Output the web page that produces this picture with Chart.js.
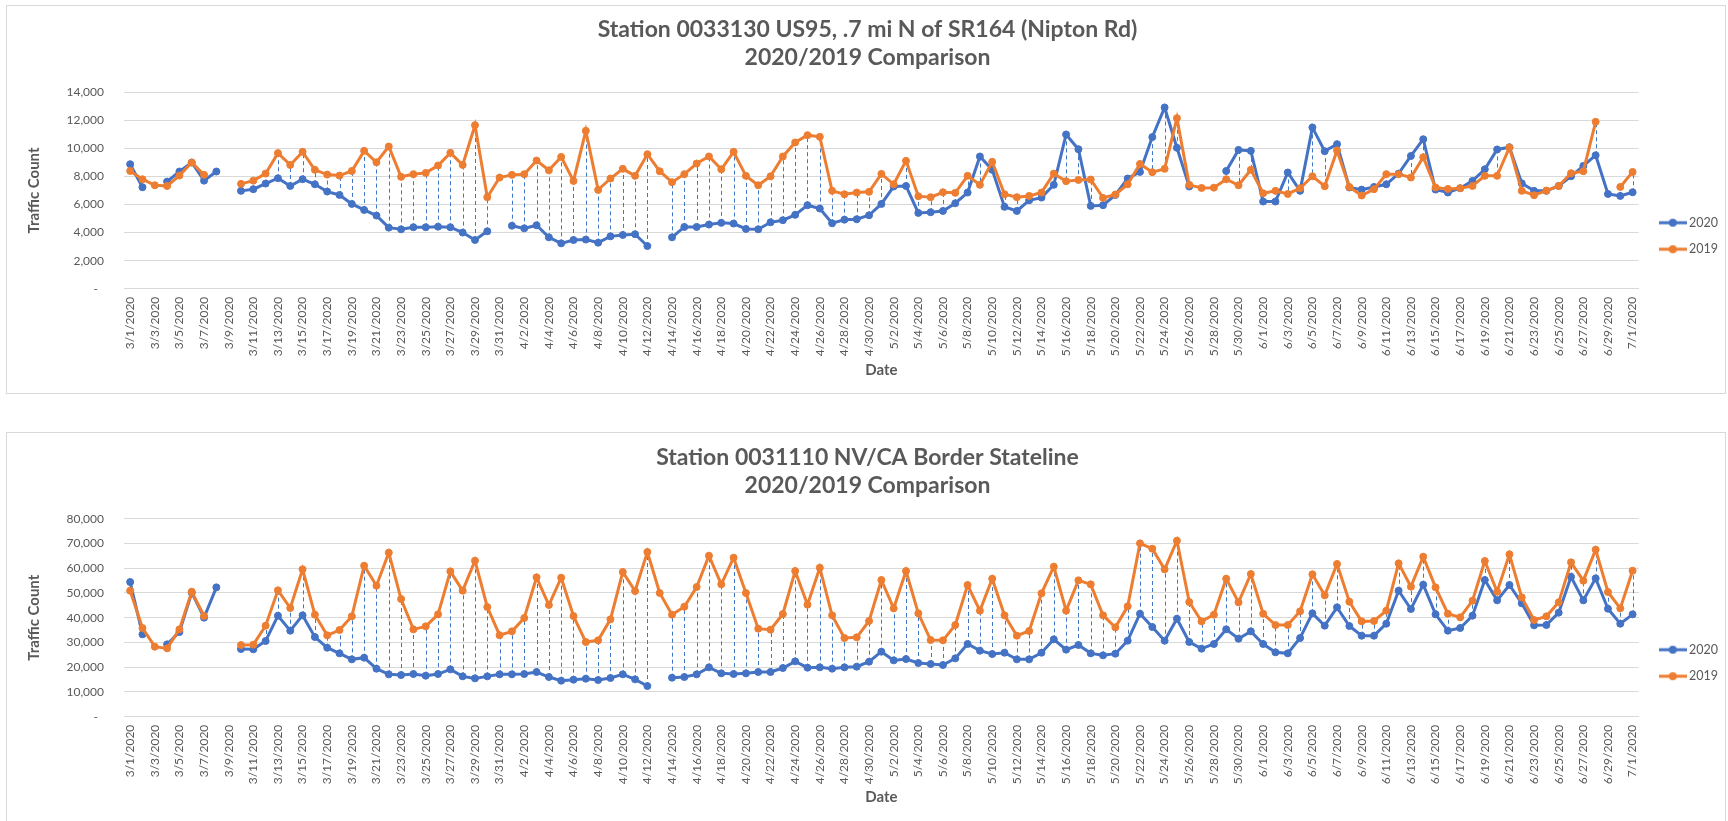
<!DOCTYPE html>
<html>
<head>
<meta charset="utf-8">
<title>Station traffic 2020/2019 comparison</title>
<script src="https://cdn.jsdelivr.net/npm/chart.js@4.4.1/dist/chart.umd.min.js"></script>
<style>
  body { margin: 0; background: #fff; width: 1728px; height: 821px; overflow: hidden; position: relative; }
  .frame { position: absolute; left: 6px; width: 1720px; border: 1px solid #d9d9d9; box-sizing: border-box; }
  #frame1 { top: 5px; height: 389px; }
  #frame2 { top: 432px; height: 392px; }
  canvas { position: absolute; left: 7px; }
  #nipton { top: 6px; }
  #stateline { top: 433px; }
</style>
</head>
<body>
<div class="frame" id="frame1"></div>
<div class="frame" id="frame2"></div>
<canvas id="nipton" width="1721" height="386"></canvas>
<canvas id="stateline" width="1721" height="386"></canvas>
<script>
const dates = [
  "3/1/2020","3/2/2020","3/3/2020","3/4/2020","3/5/2020","3/6/2020","3/7/2020","3/8/2020","3/9/2020","3/10/2020",
  "3/11/2020","3/12/2020","3/13/2020","3/14/2020","3/15/2020","3/16/2020","3/17/2020","3/18/2020","3/19/2020","3/20/2020",
  "3/21/2020","3/22/2020","3/23/2020","3/24/2020","3/25/2020","3/26/2020","3/27/2020","3/28/2020","3/29/2020","3/30/2020","3/31/2020",
  "4/1/2020","4/2/2020","4/3/2020","4/4/2020","4/5/2020","4/6/2020","4/7/2020","4/8/2020","4/9/2020","4/10/2020",
  "4/11/2020","4/12/2020","4/13/2020","4/14/2020","4/15/2020","4/16/2020","4/17/2020","4/18/2020","4/19/2020","4/20/2020",
  "4/21/2020","4/22/2020","4/23/2020","4/24/2020","4/25/2020","4/26/2020","4/27/2020","4/28/2020","4/29/2020","4/30/2020",
  "5/1/2020","5/2/2020","5/3/2020","5/4/2020","5/5/2020","5/6/2020","5/7/2020","5/8/2020","5/9/2020","5/10/2020",
  "5/11/2020","5/12/2020","5/13/2020","5/14/2020","5/15/2020","5/16/2020","5/17/2020","5/18/2020","5/19/2020","5/20/2020",
  "5/21/2020","5/22/2020","5/23/2020","5/24/2020","5/25/2020","5/26/2020","5/27/2020","5/28/2020","5/29/2020","5/30/2020","5/31/2020",
  "6/1/2020","6/2/2020","6/3/2020","6/4/2020","6/5/2020","6/6/2020","6/7/2020","6/8/2020","6/9/2020","6/10/2020",
  "6/11/2020","6/12/2020","6/13/2020","6/14/2020","6/15/2020","6/16/2020","6/17/2020","6/18/2020","6/19/2020","6/20/2020",
  "6/21/2020","6/22/2020","6/23/2020","6/24/2020","6/25/2020","6/26/2020","6/27/2020","6/28/2020","6/29/2020","6/30/2020",
  "7/1/2020"
];

// Station 0033130 US95 (Nipton Rd)
const nipton2020 = [
  8870,7230,null,7630,8350,8990,7700,8350,null,6970,7090,7490,7870,7320,7800,7440,6920,6680,6040,5610,5210,4350,4230,4380,4380,4420,4380,4000,3470,4090,null,
  4490,4300,4520,3660,3230,3470,3500,3280,3730,3830,3880,3040,null,3660,4400,4400,4570,4690,4640,4260,4230,4730,4880,5260,5950,5710,4660,4920,4950,5230,
  6040,7280,7320,5400,5450,5540,6090,6850,9420,8470,5830,5540,6300,6490,7400,10990,9940,5900,5950,6680,7850,8320,10800,12910,10040,7280,null,null,8390,9890,9820,
  6210,6210,8280,6970,11490,9800,10300,7210,7060,7250,7440,8200,9460,10650,7060,6850,7160,7680,8510,9920,10080,7510,6970,6970,7320,8010,8750,9510,6750,6610,
  6870
];
const nipton2019 = [
  8390,7800,7370,7320,8060,8990,8110,null,null,7470,7700,8200,9660,8820,9750,8470,8130,8060,8390,9820,9010,10130,7970,8160,8250,8780,9680,8820,11650,6520,7920,
  8110,8160,9130,8440,9390,7680,11250,7040,7850,8540,8040,9580,8370,7590,8160,8920,9420,8510,9750,8040,7370,8010,9420,10420,10940,10820,6970,6730,6850,6900,
  8180,7440,9110,6590,6520,6870,6830,8040,7400,9040,6730,6520,6610,6850,8200,7660,7750,7780,6470,6710,7440,8890,8300,8540,12150,7400,7180,7200,7800,7370,8470,
  6800,6970,6750,7160,8010,7300,9850,7250,6640,7090,8160,8160,7920,9370,7210,7110,7160,7320,8040,8040,10060,6970,6660,6990,7320,8230,8370,11890,null,7250,
  8320
];

// Station 0031110 NV/CA Border Stateline
const stateline2020 = [
  54420,33270,null,29230,34210,50110,40010,52260,null,27340,27210,30580,40810,34750,40950,32190,27880,25590,23170,23840,19400,17110,16840,17240,16570,17240,19130,16300,15490,16300,17110,
  17110,17240,18050,16030,14550,14950,15360,14820,15630,17110,15090,12390,null,15760,16030,17110,19940,17510,17240,17510,18050,18050,19670,22360,19800,19940,19400,19940,20210,22230,
  26270,22760,23300,21690,21280,20880,23570,29370,26670,25320,25860,23170,23170,25860,31250,27080,28960,25590,24790,25460,30710,41620,36230,30710,39600,30170,27480,29370,35290,31520,34480,
  29370,26000,25590,31790,41760,36770,44180,36640,32730,32730,37580,50920,43510,53340,41350,34750,35830,40810,55230,47010,53210,45800,36910,37040,42030,56570,47010,55900,43640,37580,
  41350
];
const stateline2019 = [
  50920,35830,28290,27610,35290,50510,40680,null,null,28960,29100,36770,51050,43910,59540,41220,32870,35020,40550,61020,52940,66270,47550,35290,36500,41350,58730,50920,63040,44320,32930,
  34480,39870,56310,45130,56170,40680,30170,30850,39330,58460,50780,66540,49970,41220,44450,52400,65060,53480,64250,49970,35560,35160,41490,58860,45260,60210,40950,31790,32060,38660,
  55230,43780,58860,41760,30980,30850,37040,53210,42840,55770,40950,32730,34620,49840,60620,42840,55090,53480,40950,36100,44590,70040,67890,59540,71120,46340,38520,41220,55770,46200,57650,
  41620,37040,37040,42570,57520,49030,61690,46470,38520,38660,42840,61960,52530,64660,52260,41620,40140,46880,62910,50510,65600,48220,39060,40550,46200,62370,54960,67490,50380,43780,
  59000
];

const seriesNames = ["2020", "2019"];
const blue = "#4472C4";
const orange = "#ED7D31";
const grey = "#595959";

Chart.defaults.font.family = "Lato, 'Open Sans', sans-serif";
Chart.defaults.color = grey;

// dashed lines joining the two years on each day
const dropLines = {
  id: "dropLines",
  beforeDatasetsDraw(chart) {
    const ctx = chart.ctx;
    const a = chart.getDatasetMeta(0).data;
    const b = chart.getDatasetMeta(1).data;
    const d0 = chart.data.datasets[0].data;
    const d1 = chart.data.datasets[1].data;
    ctx.save();
    ctx.strokeStyle = "#3f78c6";
    ctx.lineWidth = 1;
    ctx.setLineDash([4, 3]);
    for (let i = 0; i < d0.length; i++) {
      if (d0[i] == null || d1[i] == null) continue;
      ctx.beginPath();
      ctx.moveTo(Math.round(a[i].x) + 0.5, a[i].y);
      ctx.lineTo(Math.round(a[i].x) + 0.5, b[i].y);
      ctx.stroke();
    }
    ctx.restore();
  }
};

function legendIcon(color) {
  const c = document.createElement("canvas");
  c.width = 28;
  c.height = 10;
  const g = c.getContext("2d");
  g.strokeStyle = color;
  g.lineWidth = 3;
  g.beginPath();
  g.moveTo(0, 5);
  g.lineTo(28, 5);
  g.stroke();
  g.fillStyle = color;
  g.beginPath();
  g.arc(14, 5, 4, 0, Math.PI * 2);
  g.fill();
  return c;
}

function makeChart(id, title, values2020, values2019, yMax, yStep, titlePad, axisHeight) {
  new Chart(document.getElementById(id), {
    type: "line",
    data: {
      labels: dates,
      datasets: [
        {
          label: seriesNames[0],
          data: values2020,
          borderColor: blue,
          backgroundColor: blue,
          pointBackgroundColor: blue,
          borderWidth: 3,
          pointRadius: 3.5,
          pointBorderWidth: 1,
          order: 1
        },
        {
          label: seriesNames[1],
          data: values2019,
          borderColor: orange,
          backgroundColor: orange,
          pointBackgroundColor: orange,
          borderWidth: 3,
          pointRadius: 3.5,
          pointBorderWidth: 1,
          order: 0
        }
      ]
    },
    options: {
      responsive: false,
      animation: false,
      devicePixelRatio: 1,
      spanGaps: false,
      layout: { padding: 0 },
      plugins: {
        title: {
          display: true,
          text: title,
          color: grey,
          font: { size: 23, weight: "bold", lineHeight: 1.2 },
          padding: titlePad
        },
        legend: {
          position: "right",
          align: "center",
          title: { display: true, text: " ", font: { size: 10 }, padding: { top: 62, bottom: 0 } },
          labels: {
            usePointStyle: true,
            pointStyleWidth: 20,
            padding: 14,
            color: grey,
            font: { size: 12.5 },
            generateLabels: chart => chart.data.datasets.map((ds, i) => ({
              text: ds.label,
              datasetIndex: i,
              pointStyle: legendIcon(ds.borderColor),
              fillStyle: ds.borderColor,
              strokeStyle: ds.borderColor,
              lineWidth: 0,
              hidden: false,
              fontColor: grey
            }))
          }
        },
        tooltip: { enabled: false }
      },
      scales: {
        x: {
          offset: true,
          grid: { display: false, drawTicks: false },
          border: { display: true, color: "#d9d9d9" },
          ticks: {
            autoSkip: false,
            minRotation: 90,
            maxRotation: 90,
            padding: 8,
            color: grey,
            font: { size: 12 },
            callback: function (value, index) {
              return index % 2 === 0 ? this.getLabelForValue(value) : "";
            }
          },
          title: {
            display: true,
            text: "Date",
            color: grey,
            font: { size: 15, weight: "bold" },
            padding: { top: 0, bottom: 13 }
          },
          afterFit: scale => { scale.height = axisHeight; }
        },
        y: {
          min: 0,
          max: yMax,
          grid: { color: "#d9d9d9", lineWidth: 1, drawTicks: false },
          border: { display: false },
          ticks: {
            stepSize: yStep,
            padding: 20,
            color: grey,
            font: { size: 12 },
            callback: v => v === 0 ? "-  " : v.toLocaleString("en-US")
          },
          title: {
            display: true,
            text: "Traffic Count",
            color: grey,
            font: { size: 15, weight: "bold" },
            padding: { top: 18, bottom: 0 }
          },
          afterFit: scale => { scale.width = 117; }
        },
        gap: {
          position: "right",
          display: true,
          grid: { display: false, drawTicks: false },
          border: { display: false },
          ticks: { display: false },
          afterFit: scale => { scale.width = 10; }
        }
      }
    },
    plugins: [dropLines]
  });
}

makeChart("nipton", ["Station 0033130 US95, .7 mi N of SR164 (Nipton Rd)", "2020/2019 Comparison"],
  nipton2020, nipton2019, 14000, 2000, { top: 10, bottom: 21 }, 103.3);
makeChart("stateline", ["Station 0031110 NV/CA Border Stateline", "2020/2019 Comparison"],
  stateline2020, stateline2019, 80000, 10000, { top: 11, bottom: 19.5 }, 102.3);
</script>
</body>
</html>
